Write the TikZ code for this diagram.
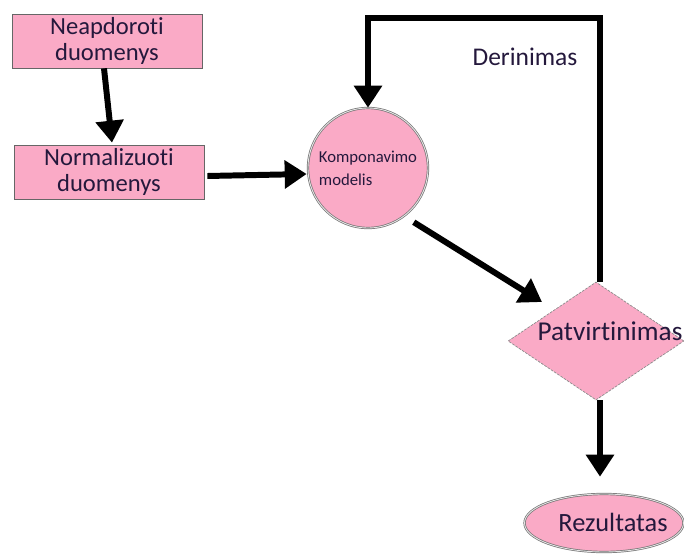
\documentclass[tikz,border=0pt]{standalone}
\usepackage{fontspec}
\setmainfont{Carlito}[Ligatures=NoCommon]
\usetikzlibrary{arrows.meta,shapes.geometric,calc}

\definecolor{pnk}{RGB}{250,170,198}
\definecolor{txt}{RGB}{36,24,60}

\begin{document}
\begin{tikzpicture}[
  x=0.02cm, y=-0.02cm,
  blk/.style={draw=black!60, fill=pnk, text=txt, minimum width=3.8cm,
    minimum height=1.08cm, inner sep=0pt, align=center,
    font=\fontsize{14}{14.7}\selectfont},
  cpnt/.style={circle, draw=black!55, double=white!80!gray, double distance=0.5pt,
    fill=pnk, text=txt, minimum size=2.4cm, inner sep=0pt, align=left,
    font=\fontsize{9.5}{13}\selectfont},
  flow/.style={line width=3.4pt, -{Triangle[length=12.5pt,width=15.5pt]}},
  lbl/.style={text=txt, inner sep=0pt, font=\fontsize{14.5}{15}\selectfont},
]
\useasboundingbox (0,0) rectangle (684,558);

\node [blk] (raw) at (107,41) {Neapdoroti\\duomenys};
\node [blk] (norm) at (109,172) {Normalizuoti\\duomenys};
\node [cpnt] (komp) at (368,168) {Komponavimo\\modelis};

\node [diamond, draw=black!45, dash pattern=on 1.5pt off 0.7pt, fill=pnk,
  minimum width=3.52cm, minimum height=2.36cm, inner sep=0pt] (pat) at (596,341) {};
\node [lbl, font=\fontsize{15.5}{16}\selectfont] (pattxt) at (610,331) {Patvirtinimas};

\node [ellipse, draw=black!55, double=white!80!gray, double distance=0.5pt, fill=pnk,
  minimum width=3.18cm, minimum height=1.16cm, inner sep=0pt] (rez) at (604,523) {};
\node [lbl, font=\fontsize{15}{16}\selectfont] (reztxt) at (613,522) {Rezultatas};

\node [lbl] (der) at (525,57) {Derinimas};

\draw [flow] ($(raw.south)+(-3,0)$) -- ($(norm.north)+(3,-2)$);
\draw [flow] ($(norm.east)+(3,4)$) -- ($(komp.west)+(-1,6)$);
\draw [flow] ($(komp.-50)+(7,8)$) -- ($(pat.center)+(-54,-39)$);
\draw [flow] ($(pat.north)+(4,0)$) -- ++(0,-264) -| (komp.north);
\draw [flow] ($(pat.south)+(4,0)$) -- ($(rez.north)+(-4,-17)$);

\end{tikzpicture}
\end{document}
